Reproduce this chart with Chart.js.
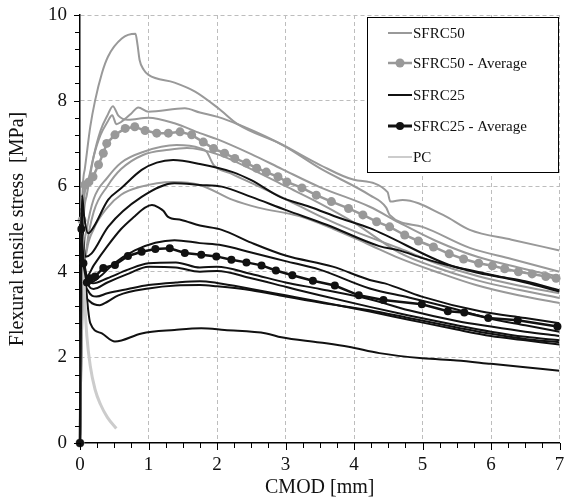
<!DOCTYPE html>
<html>
<head>
<meta charset="utf-8">
<script src="https://cdn.jsdelivr.net/npm/chart.js@4.4.1/dist/chart.umd.min.js"></script>
<style>
  html, body { margin: 0; padding: 0; background: #fff; }
  #wrap { width: 564px; height: 500px; }
</style>
</head>
<body>
<div id="wrap"><canvas id="cmodChart" width="564" height="500"></canvas></div>
<script>
// axis ticks
const xTicks = [0, 1, 2, 3, 4, 5, 6, 7];
const yTicks = [0, 2, 4, 6, 8, 10];

// SFRC50 specimens (gray)
const s50a_x = [0, 0.03, 0.07, 0.15, 0.22, 0.32, 0.41, 0.61, 0.81, 0.84, 0.87, 0.93, 1.0, 1.38, 1.68, 2.02, 2.3, 2.94, 3.5, 4.0, 4.49, 4.53, 4.71, 5.3, 5.69, 6.3, 7.0];
const s50a_y = [0, 5.5, 6.4, 7.39, 8.0, 8.64, 9.03, 9.45, 9.56, 9.3, 8.95, 8.72, 8.6, 8.42, 8.21, 7.82, 7.45, 6.98, 6.5, 6.15, 5.86, 5.64, 5.68, 5.33, 4.98, 4.75, 4.5];
const s50b_x = [0, 0.04, 0.1, 0.2, 0.3, 0.4, 0.48, 0.56, 0.7, 1.0, 1.38, 1.75, 2.0, 2.5, 2.95, 3.5, 4.23, 4.66, 5.2, 5.8, 6.4, 7.0];
const s50b_y = [0, 4.8, 5.8, 6.7, 7.3, 7.65, 7.87, 7.65, 7.55, 7.6, 7.47, 7.24, 7.1, 6.75, 6.4, 5.98, 5.52, 5.15, 4.72, 4.35, 4.1, 3.88];
const s50c_x = [0, 0.03, 0.1, 0.2, 0.3, 0.4, 0.47, 0.53, 0.6, 0.75, 0.85, 1.0, 1.53, 1.75, 2.01, 2.33, 2.96, 3.5, 4.23, 4.47, 4.52, 5.0, 5.69, 6.3, 7.0];
const s50c_y = [0, 5.0, 6.0, 6.7, 7.2, 7.5, 7.66, 7.45, 7.5, 7.7, 7.84, 7.74, 7.82, 7.72, 7.62, 7.43, 6.96, 6.42, 5.79, 5.5, 5.33, 5.05, 4.56, 4.3, 4.0];
const s50d_x = [0, 0.04, 0.1, 0.2, 0.4, 0.6, 0.92, 1.41, 1.75, 1.85, 1.95, 2.2, 2.6, 3.0, 3.5, 4.0, 4.66, 5.2, 5.8, 6.4, 7.0];
const s50d_y = [0, 4.0, 5.0, 5.7, 6.2, 6.55, 6.8, 6.96, 6.89, 6.8, 6.5, 6.3, 6.0, 5.7, 5.3, 4.95, 4.55, 4.2, 3.9, 3.68, 3.5];
const s50e_x = [0, 0.04, 0.1, 0.2, 0.4, 0.6, 0.92, 1.3, 1.56, 2.0, 2.5, 3.0, 3.5, 4.0, 4.66, 5.2, 5.8, 6.4, 7.0];
const s50e_y = [0, 3.5, 4.6, 5.4, 6.0, 6.4, 6.73, 6.85, 6.89, 6.75, 6.4, 6.0, 5.6, 5.15, 4.45, 4.1, 3.8, 3.58, 3.39];
const s50f_x = [0, 0.04, 0.1, 0.2, 0.4, 0.6, 0.87, 1.36, 1.75, 2.23, 2.6, 3.2, 3.7, 4.2, 4.66, 5.2, 5.78, 6.4, 7.0];
const s50f_y = [0, 3.5, 4.5, 5.0, 5.5, 5.8, 5.98, 6.1, 6.03, 5.68, 5.5, 5.3, 5.0, 4.65, 4.32, 4.0, 3.69, 3.45, 3.27];

// SFRC50 average (gray, markers)
const s50avg_x = [0, 0.03, 0.07, 0.13, 0.19, 0.27, 0.34, 0.39, 0.51, 0.66, 0.8, 0.95, 1.12, 1.29, 1.46, 1.63, 1.8, 1.95, 2.11, 2.26, 2.43, 2.58, 2.72, 2.89, 3.02, 3.24, 3.45, 3.67, 3.92, 4.13, 4.33, 4.52, 4.74, 4.94, 5.16, 5.39, 5.6, 5.82, 6.02, 6.2, 6.4, 6.6, 6.8, 6.95];
const s50avg_y = [0, 5.2, 6.03, 6.1, 6.22, 6.5, 6.77, 7.0, 7.2, 7.35, 7.39, 7.3, 7.24, 7.24, 7.27, 7.2, 7.03, 6.88, 6.77, 6.65, 6.54, 6.42, 6.33, 6.22, 6.1, 5.96, 5.79, 5.64, 5.48, 5.33, 5.17, 5.05, 4.86, 4.72, 4.58, 4.42, 4.3, 4.2, 4.14, 4.07, 4.0, 3.95, 3.89, 3.85];

// SFRC25 specimens (black)
const s25a_x = [0, 0.03, 0.06, 0.12, 0.2, 0.41, 0.6, 0.9, 1.12, 1.36, 1.75, 2.23, 2.5, 2.92, 3.35, 3.8, 4.23, 5.39, 5.8, 6.12, 6.5, 7.0];
const s25a_y = [0, 5.79, 5.3, 4.9, 5.05, 5.68, 5.95, 6.38, 6.55, 6.61, 6.52, 6.33, 6.14, 5.75, 5.52, 5.25, 5.02, 4.16, 4.0, 3.89, 3.78, 3.57];
const s25b_x = [0, 0.02, 0.08, 0.17, 0.41, 0.9, 1.38, 1.75, 2.07, 2.5, 3.01, 3.6, 4.37, 4.66, 5.0, 5.39, 5.8, 6.12, 6.5, 7.0];
const s25b_y = [0, 5.0, 4.35, 4.43, 5.05, 5.75, 6.07, 6.03, 5.99, 5.75, 5.44, 5.1, 4.6, 4.5, 4.32, 4.15, 3.98, 3.88, 3.75, 3.54];
const s25c_x = [0, 0.02, 0.06, 0.1, 0.2, 0.4, 0.6, 0.8, 0.95, 1.05, 1.15, 1.22, 1.28, 1.48, 1.75, 2.07, 2.5, 3.0, 3.69, 4.23, 4.45, 4.99, 5.86, 6.5, 7.0];
const s25c_y = [0, 5.4, 4.3, 3.9, 4.15, 4.6, 5.0, 5.3, 5.5, 5.56, 5.5, 5.42, 5.29, 5.21, 5.08, 4.98, 4.68, 4.38, 4.12, 3.81, 3.73, 3.42, 3.07, 2.92, 2.8];
const s25d_x = [0, 0.02, 0.06, 0.15, 0.3, 0.5, 0.8, 1.1, 1.38, 1.75, 2.07, 2.5, 3.0, 3.5, 4.23, 4.8, 5.5, 6.0, 6.5, 7.0];
const s25d_y = [0, 5.3, 4.2, 3.75, 3.9, 4.2, 4.5, 4.68, 4.74, 4.67, 4.62, 4.45, 4.25, 4.05, 3.61, 3.4, 3.12, 2.9, 2.75, 2.6];
const s25e_x = [0, 0.02, 0.06, 0.12, 0.19, 0.4, 0.7, 1.0, 1.4, 1.75, 2.0, 2.5, 3.0, 3.5, 4.23, 4.8, 5.5, 6.0, 6.5, 7.0];
const s25e_y = [0, 5.5, 4.3, 3.8, 3.73, 3.85, 4.05, 4.2, 4.22, 4.1, 4.12, 3.95, 3.75, 3.6, 3.36, 3.1, 2.85, 2.72, 2.6, 2.5];
const s25f_x = [0, 0.02, 0.06, 0.12, 0.2, 0.4, 0.7, 1.0, 1.4, 1.75, 2.0, 2.5, 3.0, 3.5, 4.23, 4.8, 5.5, 6.0, 6.5, 7.0];
const s25f_y = [0, 5.2, 4.1, 3.7, 3.6, 3.75, 3.95, 4.12, 4.1, 4.0, 4.02, 3.85, 3.65, 3.45, 3.18, 2.98, 2.75, 2.6, 2.48, 2.4];
const s25g_x = [0, 0.02, 0.06, 0.12, 0.24, 0.4, 0.7, 1.0, 1.4, 1.75, 2.0, 2.5, 3.0, 3.5, 4.23, 4.8, 5.5, 6.0, 6.5, 7.0];
const s25g_y = [0, 5.0, 3.9, 3.55, 3.42, 3.5, 3.6, 3.69, 3.75, 3.78, 3.74, 3.6, 3.45, 3.3, 3.07, 2.88, 2.65, 2.5, 2.4, 2.3];
const s25h_x = [0, 0.02, 0.06, 0.15, 0.29, 0.4, 0.56, 1.0, 1.4, 1.75, 2.0, 2.5, 3.0, 3.5, 4.23, 4.8, 5.5, 6.0, 6.5, 7.0];
const s25h_y = [0, 4.8, 3.7, 3.3, 3.22, 3.3, 3.45, 3.61, 3.68, 3.69, 3.66, 3.57, 3.42, 3.28, 3.1, 2.92, 2.7, 2.55, 2.43, 2.35];
const s25i_x = [0, 0.03, 0.08, 0.12, 0.15, 0.32, 0.51, 0.9, 1.38, 1.77, 2.11, 2.72, 2.94, 3.5, 3.92, 4.37, 5.0, 5.5, 6.0, 6.5, 7.0];
const s25i_y = [0, 4.5, 3.8, 3.1, 2.8, 2.56, 2.37, 2.56, 2.64, 2.68, 2.64, 2.56, 2.47, 2.35, 2.25, 2.1, 1.98, 1.93, 1.85, 1.77, 1.69];

// SFRC25 average (black, markers)
const s25avg_x = [0, 0.02, 0.05, 0.1, 0.15, 0.22, 0.34, 0.51, 0.7, 0.9, 1.1, 1.31, 1.53, 1.77, 1.99, 2.21, 2.43, 2.65, 2.86, 3.1, 3.4, 3.72, 4.07, 4.43, 4.99, 5.37, 5.61, 5.96, 6.39, 6.97];
const s25avg_y = [0, 5.0, 4.2, 3.75, 3.85, 3.89, 4.09, 4.16, 4.37, 4.47, 4.53, 4.55, 4.44, 4.4, 4.36, 4.28, 4.22, 4.15, 4.03, 3.92, 3.79, 3.68, 3.45, 3.34, 3.24, 3.08, 3.05, 2.92, 2.87, 2.72];

// PC (light gray)
const pc_x = [0, 0.025, 0.05, 0.07, 0.1, 0.15, 0.22, 0.3, 0.4, 0.53];
const pc_y = [0, 4.9, 4.2, 3.3, 2.5, 1.8, 1.25, 0.9, 0.6, 0.34];

const GRAY = '#999999';
const BLACK = '#111111';
const LIGHT = '#cccccc';
const FONT = "'Liberation Serif', 'Times New Roman', serif";

function pts(xs, ys) {
    return xs.map((x, i) => ({ x: x, y: ys[i] }));
}

function specimen(xs, ys, color, width, order) {
    return {
        data: pts(xs, ys),
        borderColor: color,
        borderWidth: width,
        pointRadius: 0,
        cubicInterpolationMode: 'monotone',
        order: order
    };
}

const datasets = [
    specimen(s50a_x, s50a_y, GRAY, 2, 4),
    specimen(s50b_x, s50b_y, GRAY, 2, 4),
    specimen(s50c_x, s50c_y, GRAY, 2, 4),
    specimen(s50d_x, s50d_y, GRAY, 2, 4),
    specimen(s50e_x, s50e_y, GRAY, 2, 4),
    specimen(s50f_x, s50f_y, GRAY, 2, 4),
    {
        data: pts(s50avg_x, s50avg_y),
        borderColor: GRAY, borderWidth: 2.5,
        pointRadius: 4.5, pointBackgroundColor: GRAY, pointBorderWidth: 0,
        order: 3, clip: 8
    },
    specimen(s25a_x, s25a_y, BLACK, 2, 2),
    specimen(s25b_x, s25b_y, BLACK, 2, 2),
    specimen(s25c_x, s25c_y, BLACK, 2, 2),
    specimen(s25d_x, s25d_y, BLACK, 2, 2),
    specimen(s25e_x, s25e_y, BLACK, 2, 2),
    specimen(s25f_x, s25f_y, BLACK, 2, 2),
    specimen(s25g_x, s25g_y, BLACK, 2, 2),
    specimen(s25h_x, s25h_y, BLACK, 2, 2),
    specimen(s25i_x, s25i_y, BLACK, 2, 2),
    specimen(pc_x, pc_y, LIGHT, 3, 1),
    {
        data: pts(s25avg_x, s25avg_y),
        borderColor: BLACK, borderWidth: 2.5,
        pointRadius: 4, pointBackgroundColor: BLACK, pointBorderWidth: 0,
        order: 0, clip: 8
    }
];

// minor ticks + legend box drawn on top
const decorPlugin = {
    id: 'decor',
    afterDraw(chart) {
        const ctx = chart.ctx;
        const a = chart.chartArea;
        const sx = chart.scales.x, sy = chart.scales.y;
        ctx.save();
        ctx.strokeStyle = '#000';
        ctx.lineWidth = 1;
        ctx.beginPath();
        for (let i = 0; i <= 28; i++) {
            const px = Math.round(sx.getPixelForValue(i * 0.25)) + 0.5;
            const len = i % 4 === 0 ? 7 : 5;
            ctx.moveTo(px, a.bottom);
            ctx.lineTo(px, a.bottom + len);
        }
        for (let i = 0; i <= 25; i++) {
            const py = Math.round(sy.getPixelForValue(i * 0.4)) + 0.5;
            const len = i % 5 === 0 ? 6 : 5;
            ctx.moveTo(a.left - len, py);
            ctx.lineTo(a.left, py);
        }
        ctx.stroke();

        // legend
        const bx = 367.5, by = 17.5, bw = 191, bh = 155;
        ctx.fillStyle = '#fff';
        ctx.fillRect(bx, by, bw, bh);
        ctx.strokeStyle = '#000';
        ctx.lineWidth = 1;
        ctx.strokeRect(bx, by, bw, bh);

        const items = [
            { text: 'SFRC50', color: GRAY, width: 2, dot: 0 },
            { text: 'SFRC50 - Average', color: GRAY, width: 2.5, dot: 4.5 },
            { text: 'SFRC25', color: BLACK, width: 2, dot: 0 },
            { text: 'SFRC25 - Average', color: BLACK, width: 3, dot: 4 },
            { text: 'PC', color: LIGHT, width: 2, dot: 0 }
        ];
        const rows = [33, 63, 95, 126, 157];
        ctx.font = '15px ' + FONT;
        ctx.textBaseline = 'middle';
        ctx.textAlign = 'left';
        items.forEach((it, i) => {
            const y = rows[i];
            ctx.strokeStyle = it.color;
            ctx.lineWidth = it.width;
            ctx.beginPath();
            ctx.moveTo(388, y);
            ctx.lineTo(412, y);
            ctx.stroke();
            if (it.dot) {
                ctx.fillStyle = it.color;
                ctx.beginPath();
                ctx.arc(400, y, it.dot, 0, Math.PI * 2);
                ctx.fill();
            }
            ctx.fillStyle = '#111';
            ctx.fillText(it.text, 413, y + 1);
        });
        ctx.restore();
    }
};

const gridColor = (c) => (c.tick && c.tick.value === 0) ? 'rgba(0,0,0,0)' : '#bdbdbd';

new Chart(document.getElementById('cmodChart').getContext('2d'), {
    type: 'line',
    data: { datasets: datasets },
    options: {
        responsive: false,
        animation: false,
        devicePixelRatio: 1,
        layout: { padding: { top: 15, right: 3, left: 0, bottom: 0 } },
        plugins: { legend: { display: false }, tooltip: { enabled: false } },
        scales: {
            x: {
                type: 'linear', min: 0, max: 7,
                afterBuildTicks: (s) => { s.ticks = xTicks.map(v => ({ value: v })); },
                afterFit: (s) => { s.height = 57; s.paddingLeft = 0; s.paddingRight = 0; },
                ticks: { color: '#111', font: { family: FONT, size: 19 }, padding: 11, maxRotation: 0, autoSkip: false },
                grid: { color: gridColor, lineWidth: 1, drawTicks: false },
                border: { display: true, color: '#000', width: 1.5, dash: [4, 3] },
                title: { display: true, text: 'CMOD [mm]', color: '#111', font: { family: FONT, size: 20 }, padding: { top: 0, bottom: 0 } }
            },
            y: {
                type: 'linear', min: 0, max: 10,
                afterBuildTicks: (s) => { s.ticks = yTicks.map(v => ({ value: v })); },
                afterFit: (s) => { s.width = 80; s.paddingTop = 0; s.paddingBottom = 0; },
                ticks: { color: '#111', font: { family: FONT, size: 19 }, padding: 13, autoSkip: false },
                grid: { color: gridColor, lineWidth: 1, drawTicks: false },
                border: { display: true, color: '#000', width: 1.5, dash: [4, 3] },
                title: { display: true, text: 'Flexural tensile stress  [MPa]', color: '#111', font: { family: FONT, size: 20 }, padding: { top: 6, bottom: 0 } }
            }
        }
    },
    plugins: [decorPlugin]
});
</script>
</body>
</html>
